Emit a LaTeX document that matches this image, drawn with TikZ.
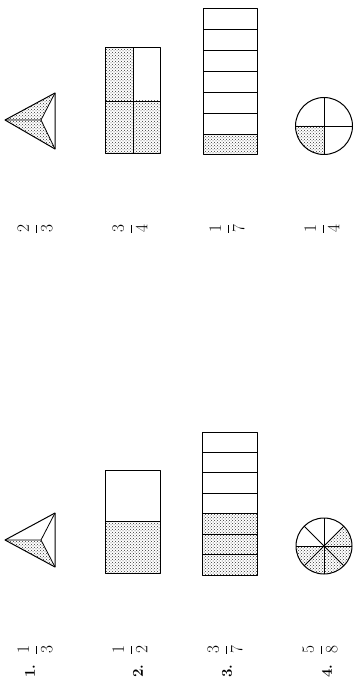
\documentclass[tikz,border=0pt]{standalone}
\usetikzlibrary{patterns}
\begin{document}
\begin{tikzpicture}[x=1pt,y=-1pt,
  edge/.style={line width=1pt, line join=round},
  thin edge/.style={line width=0.8pt},
  shaded/.style={pattern=crosshatch dots, pattern color=black!80},
  fraclabel/.style={rotate=90, font=\fontsize{19}{22}\selectfont, inner sep=0pt},
  numlabel/.style={rotate=90, font=\bfseries\fontsize{15}{18}\selectfont, inner sep=0pt}]
\useasboundingbox (0,0) rectangle (359,687);

% ---------- upper row ----------
% triangle 2/3
\coordinate (uT) at (55,93);
\coordinate (uB) at (55,149);
\coordinate (uL) at (5,120);
\coordinate (uC) at (41,120);
\fill[shaded] (uL) -- (uT) -- (uC) -- cycle;
\fill[shaded] (uL) -- (uB) -- (uC) -- cycle;
\draw[edge] (uL) -- (uT) -- (uB) -- cycle;
\draw[thin edge] (uC) -- (uL) (uC) -- (uT) (uC) -- (uB);

% rectangle 3/4
\fill[shaded] (105,48) rectangle (133,101);
\fill[shaded] (105,101) rectangle (160,154);
\draw[edge] (105,48) rectangle (160,154);
\draw[thin edge] (133,48) -- (133,154) (105,101) -- (160,101);

% bar 1/7
\fill[shaded] (203,134.14) rectangle (257,155);
\draw[edge] (203,9) rectangle (257,155);
\foreach \i in {1,...,6}
  \draw[thin edge] (203,9+\i*20.857) -- (257,9+\i*20.857);

% circle 1/4
\coordinate (uO) at (324,126);
\fill[shaded] (uO) -- ++(180:28.5) arc[start angle=180, end angle=90, radius=28.5] -- cycle;
\draw[edge] (uO) circle[radius=28.5];
\draw[thin edge] (uO) +(0:28.5) -- +(180:28.5);
\draw[thin edge] (uO) +(90:28.5) -- +(270:28.5);

% labels
\node[fraclabel] (f1) at (35,229) {$\displaystyle\frac{2}{3}$};
\node[fraclabel] (f2) at (130,229) {$\displaystyle\frac{3}{4}$};
\node[fraclabel] (f3) at (227,229) {$\displaystyle\frac{1}{7}$};
\node[fraclabel] (f4) at (322,229) {$\displaystyle\frac{1}{4}$};

% ---------- lower row ----------
% triangle 1/3
\coordinate (lT) at (55,513);
\coordinate (lB) at (55,567);
\coordinate (lL) at (5,540);
\coordinate (lC) at (41,540);
\fill[shaded] (lL) -- (lB) -- (lC) -- cycle;
\draw[edge] (lL) -- (lT) -- (lB) -- cycle;
\draw[thin edge] (lC) -- (lL) (lC) -- (lT) (lC) -- (lB);

% rectangle 1/2
\fill[shaded] (105,521.5) rectangle (160,573);
\draw[edge] (105,470) rectangle (160,573);
\draw[thin edge] (105,521.5) -- (160,521.5);

% bar 3/7
\fill[shaded] (202,513.71) rectangle (257,575);
\draw[edge] (202,432) rectangle (257,575);
\foreach \i in {1,...,6}
  \draw[thin edge] (202,432+\i*20.43) -- (257,432+\i*20.43);

% circle 5/8
\coordinate (lO) at (324,546);
\fill[shaded] (lO) -- ++(-45:28) arc[start angle=-45, end angle=180, radius=28] -- cycle;
\draw[edge] (lO) circle[radius=28];
\foreach \a in {0,45,90,135}
  \draw[thin edge] (lO) +(\a:28) -- +(\a+180:28);

% labels
\node[fraclabel] (g1) at (35,650) {$\displaystyle\frac{1}{3}$};
\node[fraclabel] (g2) at (130,650) {$\displaystyle\frac{1}{2}$};
\node[fraclabel] (g3) at (225,650) {$\displaystyle\frac{3}{7}$};
\node[fraclabel] (g4) at (320,650) {$\displaystyle\frac{5}{8}$};

\node[numlabel] (n1) at (30,671) {1.};
\node[numlabel] (n2) at (138,671) {2.};
\node[numlabel] (n3) at (227,671) {3.};
\node[numlabel] (n4) at (327,671) {4.};
\end{tikzpicture}
\end{document}
